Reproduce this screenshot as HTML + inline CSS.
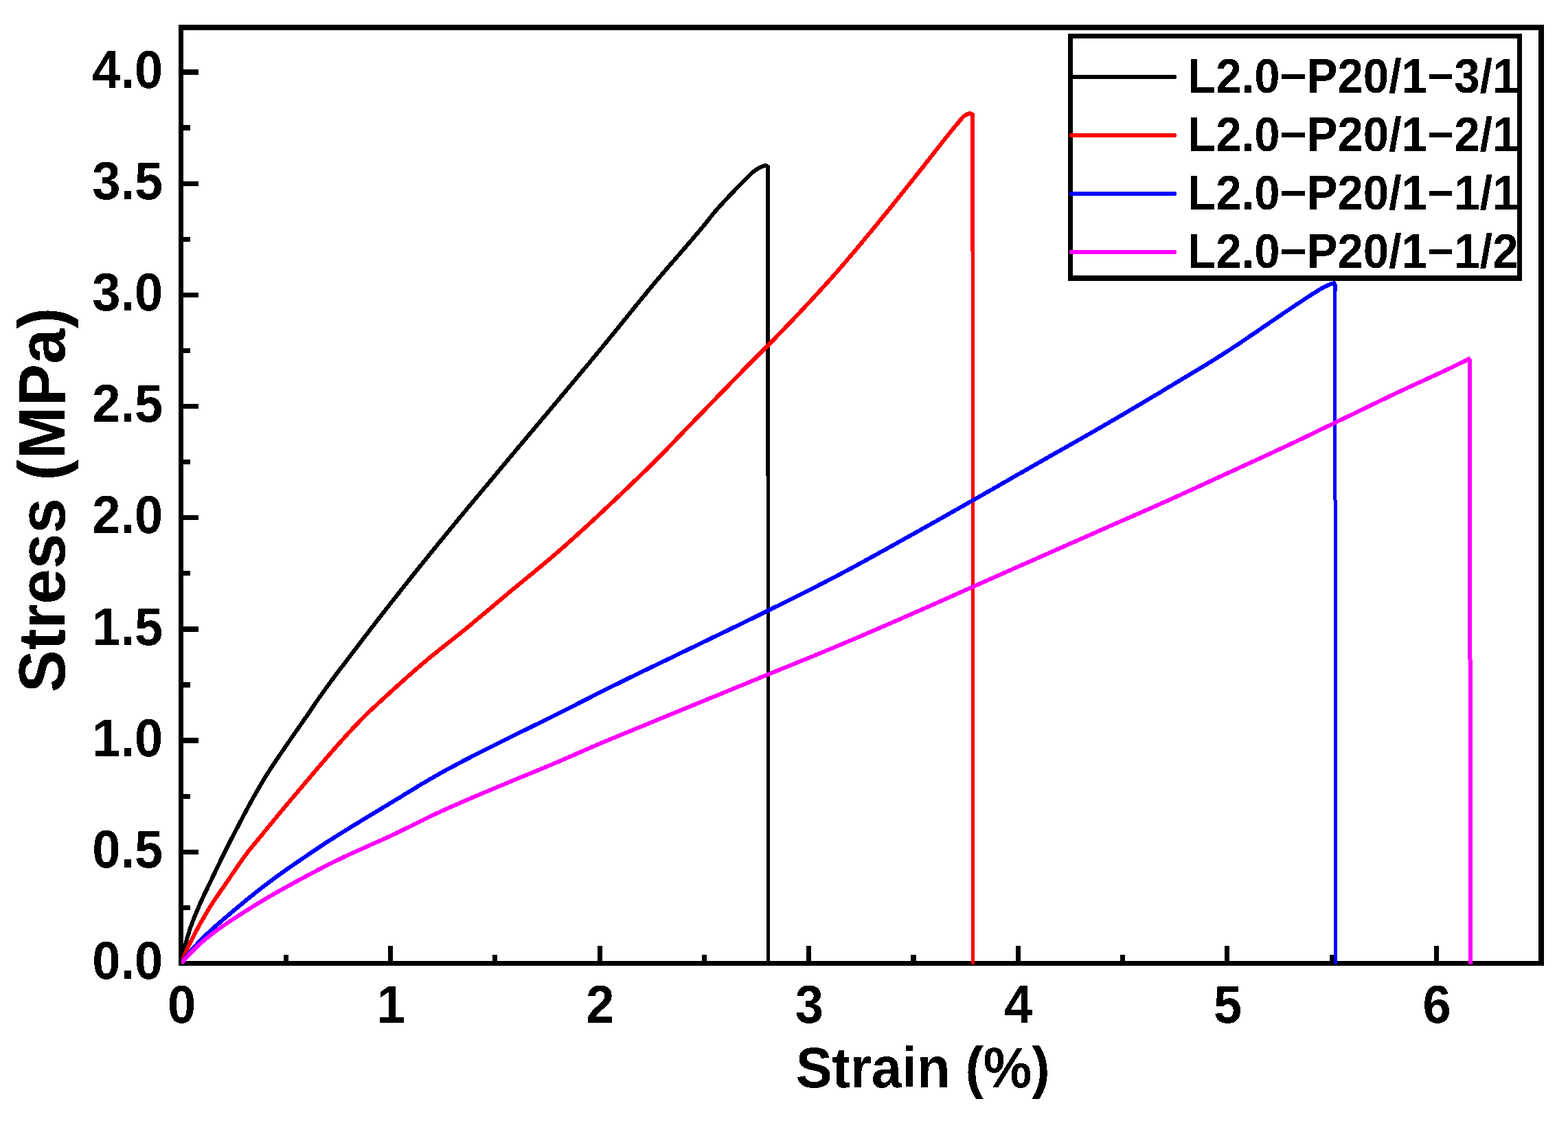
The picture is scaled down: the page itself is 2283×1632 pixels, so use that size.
<!DOCTYPE html>
<html lang="en">
<head>
<meta charset="utf-8">
<title>Stress-strain curves</title>
<style>
html,body{margin:0;padding:0;background:#fff;}
body{width:2283px;height:1632px;overflow:hidden;}
svg{display:block;}
text{font-family:'Liberation Sans',sans-serif;font-weight:bold;fill:#000;}
</style>
</head>
<body>
<svg width="2283" height="1632" viewBox="0 0 2283 1632">
<rect x="0" y="0" width="2283" height="1632" fill="#fff"/>
<g fill="#000" shape-rendering="crispEdges">
<rect x="260" y="36" width="1988" height="8"/>
<rect x="260" y="1399" width="1988" height="7"/>
<rect x="260" y="36" width="7" height="1370"/>
<rect x="2240" y="36" width="8" height="1370"/>
<rect x="267" y="1318" width="10" height="7"/>
<rect x="267" y="1237" width="22" height="7"/>
<rect x="267" y="1156" width="10" height="7"/>
<rect x="267" y="1074" width="22" height="8"/>
<rect x="267" y="993" width="10" height="8"/>
<rect x="267" y="912" width="22" height="8"/>
<rect x="267" y="831" width="10" height="7"/>
<rect x="267" y="750" width="22" height="7"/>
<rect x="267" y="669" width="10" height="7"/>
<rect x="267" y="588" width="22" height="7"/>
<rect x="267" y="507" width="10" height="7"/>
<rect x="267" y="426" width="22" height="7"/>
<rect x="267" y="345" width="10" height="7"/>
<rect x="267" y="264" width="22" height="7"/>
<rect x="267" y="182" width="10" height="8"/>
<rect x="267" y="101" width="22" height="8"/>
<rect x="413" y="1390" width="7" height="9"/>
<rect x="565" y="1377" width="7" height="22"/>
<rect x="717" y="1390" width="7" height="9"/>
<rect x="870" y="1377" width="7" height="22"/>
<rect x="1022" y="1390" width="7" height="9"/>
<rect x="1174" y="1377" width="7" height="22"/>
<rect x="1326" y="1390" width="8" height="9"/>
<rect x="1479" y="1377" width="7" height="22"/>
<rect x="1631" y="1390" width="7" height="9"/>
<rect x="1783" y="1377" width="7" height="22"/>
<rect x="1936" y="1390" width="7" height="9"/>
<rect x="2088" y="1377" width="7" height="22"/>
</g>
<defs><clipPath id="plotclip"><rect x="264" y="44" width="1976" height="1360"/></clipPath></defs>
<g clip-path="url(#plotclip)" shape-rendering="crispEdges">
<path fill="none" stroke="#000000" stroke-width="6" stroke-linejoin="round" stroke-linecap="butt" d="M263.9 1402.5 L266.0 1392.6 L268.2 1383.2 L270.3 1374.4 L272.4 1366.2 L274.6 1358.9 L274.6 1358.9 L276.7 1352.3 L278.8 1346.2 L281.0 1340.5 L283.1 1335.1 L285.2 1330.0 L287.4 1324.9 L288.6 1322.0 L289.5 1319.8 L291.6 1314.9 L293.8 1310.2 L295.9 1305.6 L298.0 1301.1 L300.2 1296.6 L302.3 1292.2 L304.4 1287.8 L305.8 1285.0 L306.6 1283.3 L308.7 1278.8 L310.8 1274.3 L313.0 1269.9 L315.1 1265.4 L317.2 1261.0 L319.4 1256.6 L321.5 1252.2 L323.6 1247.8 L325.8 1243.5 L327.9 1239.2 L330.0 1234.9 L332.2 1230.7 L334.3 1226.5 L335.0 1225.1 L336.4 1222.3 L338.6 1218.2 L340.7 1214.0 L342.8 1209.9 L345.0 1205.8 L347.1 1201.7 L349.2 1197.6 L351.4 1193.5 L353.5 1189.5 L355.6 1185.5 L357.8 1181.5 L359.9 1177.5 L362.0 1173.5 L364.2 1169.6 L366.3 1165.7 L368.4 1161.9 L370.6 1158.1 L372.7 1154.3 L374.8 1150.6 L377.0 1146.9 L379.1 1143.2 L381.2 1139.6 L383.4 1136.1 L384.0 1135.0 L385.5 1132.5 L387.6 1129.1 L389.8 1125.7 L391.9 1122.4 L394.0 1119.1 L396.2 1115.8 L398.3 1112.6 L400.4 1109.4 L402.6 1106.2 L404.7 1103.1 L406.8 1099.9 L409.0 1096.8 L411.1 1093.7 L413.2 1090.6 L415.4 1087.5 L417.5 1084.4 L419.6 1081.2 L420.0 1080.7 L421.8 1078.1 L423.9 1075.0 L426.0 1071.9 L428.2 1068.9 L430.3 1065.8 L432.4 1062.8 L434.6 1059.7 L436.7 1056.7 L438.8 1053.6 L441.0 1050.6 L443.1 1047.5 L444.8 1045.0 L445.2 1044.4 L447.4 1041.3 L449.5 1038.2 L451.6 1035.0 L453.8 1031.9 L455.9 1028.7 L458.0 1025.6 L460.2 1022.4 L462.3 1019.3 L464.4 1016.2 L466.6 1013.2 L468.7 1010.2 L468.8 1010.0 L470.8 1007.2 L473.0 1004.2 L475.1 1001.3 L477.2 998.3 L479.4 995.4 L481.5 992.5 L483.6 989.7 L485.8 986.8 L487.9 983.9 L490.0 981.1 L492.2 978.3 L494.3 975.4 L496.4 972.6 L498.6 969.8 L500.7 967.0 L502.8 964.2 L505.0 961.4 L507.1 958.6 L509.2 955.7 L509.8 955.0 L511.4 952.9 L513.5 950.1 L515.6 947.3 L517.8 944.5 L519.9 941.7 L522.0 938.9 L524.2 936.1 L526.3 933.3 L528.4 930.5 L530.6 927.7 L532.7 924.9 L534.8 922.2 L537.0 919.4 L539.1 916.6 L541.2 913.8 L543.4 911.1 L545.5 908.3 L547.6 905.5 L549.8 902.8 L551.9 900.0 L554.0 897.3 L556.2 894.5 L558.3 891.8 L560.4 889.1 L562.6 886.3 L564.7 883.6 L566.8 880.9 L569.0 878.1 L571.1 875.4 L573.2 872.7 L575.4 870.0 L577.5 867.3 L579.3 865.0 L579.6 864.6 L581.8 861.9 L583.9 859.2 L586.0 856.5 L588.2 853.8 L590.3 851.1 L592.4 848.4 L594.6 845.7 L596.7 843.0 L598.8 840.4 L601.0 837.7 L603.1 835.0 L605.2 832.4 L607.4 829.7 L609.5 827.0 L611.6 824.4 L613.8 821.7 L615.9 819.1 L618.0 816.4 L620.2 813.8 L622.3 811.2 L624.4 808.5 L626.6 805.9 L628.7 803.3 L630.8 800.6 L633.0 798.0 L635.1 795.4 L637.2 792.8 L639.4 790.1 L641.5 787.5 L643.6 784.9 L645.8 782.3 L647.9 779.7 L650.0 777.1 L651.7 775.0 L652.2 774.5 L654.3 771.9 L656.4 769.3 L658.6 766.7 L660.7 764.1 L662.8 761.5 L665.0 758.9 L667.1 756.3 L669.2 753.7 L671.4 751.2 L673.5 748.6 L675.6 746.0 L677.8 743.5 L679.9 740.9 L682.0 738.3 L684.2 735.8 L686.3 733.2 L688.4 730.6 L690.6 728.1 L692.7 725.5 L694.8 723.0 L697.0 720.4 L699.1 717.9 L701.2 715.3 L703.4 712.8 L705.5 710.2 L707.6 707.7 L709.8 705.1 L711.9 702.6 L714.0 700.0 L716.2 697.5 L718.3 694.9 L720.4 692.4 L722.6 689.8 L724.7 687.3 L726.6 685.0 L726.8 684.7 L729.0 682.1 L731.1 679.6 L733.2 677.0 L735.4 674.5 L737.5 671.9 L739.6 669.4 L741.8 666.8 L743.9 664.3 L746.0 661.7 L748.2 659.2 L750.3 656.6 L752.4 654.1 L754.6 651.5 L756.7 649.0 L758.8 646.5 L761.0 643.9 L763.1 641.4 L765.2 638.8 L767.4 636.3 L769.5 633.8 L771.6 631.2 L773.8 628.7 L775.9 626.2 L778.0 623.6 L780.2 621.1 L782.3 618.5 L784.4 616.0 L786.6 613.5 L788.7 610.9 L790.8 608.4 L793.0 605.9 L795.1 603.3 L797.2 600.8 L799.4 598.2 L801.5 595.7 L803.6 593.2 L805.8 590.6 L807.9 588.1 L810.0 585.5 L812.2 583.0 L814.3 580.5 L816.4 577.9 L818.6 575.4 L820.7 572.8 L822.8 570.3 L825.0 567.7 L827.1 565.2 L829.2 562.7 L831.4 560.1 L833.5 557.6 L835.6 555.0 L837.8 552.5 L839.9 549.9 L842.0 547.3 L844.2 544.8 L846.3 542.2 L848.4 539.7 L850.6 537.1 L852.7 534.6 L854.8 532.0 L857.0 529.4 L859.1 526.9 L861.2 524.3 L863.4 521.7 L865.5 519.1 L867.6 516.6 L869.8 514.0 L871.9 511.4 L874.0 508.8 L876.2 506.2 L877.2 505.0 L878.3 503.7 L880.4 501.1 L882.6 498.5 L884.7 495.9 L886.8 493.2 L889.0 490.6 L891.1 488.0 L893.2 485.4 L895.4 482.8 L897.5 480.1 L899.6 477.5 L901.8 474.9 L903.9 472.2 L906.0 469.6 L908.2 466.9 L910.3 464.3 L912.4 461.7 L914.6 459.0 L916.7 456.4 L918.8 453.7 L921.0 451.1 L923.1 448.5 L925.2 445.8 L927.4 443.2 L929.5 440.6 L931.6 438.0 L933.8 435.4 L935.9 432.8 L938.0 430.2 L940.2 427.6 L942.3 425.0 L944.4 422.4 L946.6 419.8 L948.7 417.3 L950.6 415.0 L950.8 414.7 L953.0 412.2 L955.1 409.6 L957.2 407.1 L959.4 404.6 L961.5 402.1 L963.6 399.6 L965.8 397.1 L967.9 394.6 L970.0 392.1 L972.2 389.7 L974.3 387.2 L976.4 384.7 L978.6 382.3 L980.7 379.8 L982.8 377.4 L985.0 374.9 L987.1 372.5 L989.2 370.0 L991.4 367.5 L993.5 365.1 L995.6 362.6 L997.8 360.2 L999.9 357.7 L1002.0 355.2 L1004.2 352.7 L1006.3 350.3 L1008.4 347.8 L1010.6 345.3 L1012.7 342.8 L1014.8 340.2 L1017.0 337.7 L1019.1 335.2 L1021.2 332.6 L1023.4 330.1 L1025.4 327.6 L1025.5 327.5 L1027.6 324.9 L1029.8 322.2 L1031.9 319.5 L1034.0 316.8 L1036.2 314.1 L1038.3 311.4 L1040.4 308.8 L1042.0 307.0 L1042.6 306.3 L1044.7 303.9 L1046.8 301.5 L1049.0 299.1 L1051.1 296.8 L1053.2 294.5 L1055.4 292.2 L1057.5 289.9 L1059.6 287.7 L1061.8 285.4 L1063.9 283.2 L1064.7 282.3 L1066.0 280.9 L1068.2 278.7 L1070.3 276.4 L1072.4 274.2 L1074.6 272.0 L1076.7 269.8 L1078.8 267.6 L1081.0 265.4 L1083.1 263.3 L1084.1 262.3 L1085.2 261.2 L1087.4 259.0 L1089.5 256.8 L1091.6 254.7 L1093.8 252.7 L1095.9 250.9 L1097.0 250.0 L1098.0 249.2 L1100.2 247.6 L1102.3 246.2 L1104.4 244.9 L1106.6 243.8 L1106.7 243.7 L1108.7 242.9 L1110.8 242.1 L1113.0 241.4 L1115.1 240.9 L1118.0 242.9 L1118.0 252.9"/>
<rect fill="#000000" x="1115" y="247" width="6" height="446"/>
<rect fill="#000000" x="1116" y="693" width="5" height="712"/>
<path fill="none" stroke="#ff0000" stroke-width="6" stroke-linejoin="round" stroke-linecap="butt" d="M263.9 1402.5 L266.8 1395.5 L269.7 1388.6 L272.5 1382.0 L275.4 1375.7 L276.4 1373.7 L278.3 1369.8 L281.2 1364.1 L284.0 1358.5 L286.9 1353.1 L289.8 1347.8 L292.7 1342.6 L295.6 1337.6 L298.4 1332.7 L301.3 1327.8 L304.2 1323.1 L304.9 1322.0 L307.1 1318.4 L309.9 1313.9 L312.8 1309.6 L315.7 1305.3 L318.6 1301.2 L321.4 1297.0 L324.3 1292.9 L327.2 1288.8 L329.8 1285.0 L330.1 1284.6 L333.0 1280.3 L335.8 1276.1 L338.7 1271.8 L341.6 1267.6 L344.5 1263.3 L347.3 1259.1 L350.2 1255.0 L353.1 1250.9 L356.0 1246.9 L358.9 1243.0 L360.9 1240.3 L361.7 1239.2 L364.6 1235.6 L367.5 1232.1 L370.4 1228.7 L373.2 1225.3 L373.4 1225.0 L376.1 1221.8 L379.0 1218.3 L381.9 1214.8 L384.7 1211.2 L387.6 1207.7 L390.5 1204.2 L393.4 1200.7 L396.3 1197.2 L399.1 1193.7 L402.0 1190.2 L404.9 1186.7 L407.8 1183.2 L410.6 1179.7 L413.5 1176.3 L416.4 1172.8 L419.3 1169.4 L422.2 1166.0 L425.0 1162.6 L427.2 1160.0 L427.9 1159.2 L430.8 1155.8 L433.7 1152.4 L436.5 1149.0 L439.4 1145.6 L442.3 1142.2 L445.2 1138.8 L448.0 1135.4 L450.9 1132.0 L453.8 1128.6 L456.7 1125.2 L459.6 1121.8 L462.4 1118.5 L465.3 1115.1 L468.2 1111.7 L471.1 1108.4 L473.9 1105.0 L476.8 1101.7 L479.7 1098.4 L482.6 1095.1 L485.5 1091.8 L488.3 1088.5 L491.2 1085.2 L494.1 1082.0 L497.0 1078.8 L499.8 1075.6 L502.7 1072.4 L505.6 1069.2 L508.5 1066.1 L511.3 1063.0 L514.2 1059.9 L517.1 1056.9 L520.0 1053.9 L522.9 1050.9 L525.7 1047.9 L528.6 1045.0 L528.6 1045.0 L531.5 1042.1 L534.4 1039.3 L537.2 1036.5 L540.1 1033.7 L543.0 1031.0 L545.9 1028.4 L548.8 1025.7 L551.6 1023.1 L554.5 1020.4 L557.4 1017.8 L560.3 1015.2 L563.1 1012.6 L566.0 1010.0 L566.0 1010.0 L568.9 1007.3 L571.8 1004.7 L574.6 1002.1 L577.5 999.5 L580.4 996.9 L583.3 994.3 L586.2 991.7 L589.0 989.2 L591.9 986.6 L594.8 984.0 L597.7 981.5 L600.5 979.0 L603.4 976.4 L606.3 973.9 L609.2 971.4 L612.1 969.0 L614.9 966.5 L617.8 964.1 L620.0 962.2 L620.7 961.6 L623.6 959.2 L626.4 956.8 L629.3 954.5 L632.2 952.1 L635.1 949.8 L637.9 947.5 L640.8 945.2 L643.7 942.9 L646.6 940.6 L649.5 938.3 L652.3 936.1 L655.2 933.8 L658.1 931.5 L661.0 929.2 L663.8 927.0 L666.7 924.7 L669.6 922.4 L672.5 920.1 L675.4 917.7 L678.2 915.4 L680.0 914.0 L681.1 913.0 L684.0 910.7 L686.9 908.3 L689.7 905.9 L692.6 903.5 L695.5 901.1 L698.4 898.7 L701.2 896.3 L704.1 893.9 L707.0 891.4 L709.9 889.0 L712.8 886.6 L715.6 884.2 L718.5 881.7 L721.4 879.3 L724.3 876.9 L727.1 874.5 L730.0 872.0 L732.9 869.6 L735.8 867.2 L738.7 864.8 L739.6 864.0 L741.5 862.4 L744.4 860.0 L747.3 857.6 L750.2 855.3 L753.0 852.9 L755.9 850.5 L758.8 848.2 L761.7 845.8 L764.5 843.4 L767.4 841.1 L770.3 838.7 L773.2 836.4 L776.1 834.0 L778.9 831.6 L781.8 829.3 L784.7 826.9 L787.6 824.5 L790.4 822.1 L793.3 819.7 L796.2 817.3 L799.1 814.9 L802.0 812.4 L804.8 810.0 L807.7 807.5 L810.6 805.0 L813.5 802.5 L815.0 801.2 L816.3 800.0 L819.2 797.5 L822.1 795.0 L825.0 792.4 L827.8 789.9 L830.7 787.3 L833.6 784.7 L836.5 782.1 L839.4 779.5 L842.2 776.9 L845.1 774.3 L848.0 771.7 L850.9 769.1 L853.7 766.5 L856.6 763.8 L859.5 761.2 L862.4 758.5 L865.3 755.8 L868.1 753.2 L871.0 750.5 L873.9 747.8 L876.8 745.1 L879.6 742.4 L882.5 739.7 L885.4 737.0 L888.3 734.3 L891.1 731.6 L894.0 728.9 L896.9 726.1 L899.8 723.4 L902.7 720.7 L905.5 717.9 L908.4 715.2 L911.3 712.4 L914.2 709.7 L917.0 706.9 L919.9 704.2 L922.8 701.4 L925.7 698.6 L928.6 695.9 L931.4 693.1 L934.3 690.3 L937.2 687.5 L939.8 685.0 L940.1 684.7 L942.9 682.0 L945.8 679.1 L948.7 676.3 L951.6 673.5 L954.4 670.6 L957.3 667.7 L960.2 664.8 L962.0 663.0 L963.1 661.9 L966.0 659.0 L968.8 656.0 L971.7 653.1 L974.6 650.1 L977.5 647.1 L980.3 644.1 L983.2 641.1 L986.1 638.1 L989.0 635.1 L991.9 632.1 L994.7 629.1 L997.6 626.1 L1000.0 623.6 L1000.5 623.1 L1003.4 620.1 L1006.2 617.2 L1009.1 614.2 L1012.0 611.2 L1014.9 608.3 L1017.7 605.3 L1020.6 602.3 L1023.5 599.4 L1026.4 596.4 L1029.3 593.4 L1032.1 590.5 L1035.0 587.5 L1037.9 584.5 L1040.8 581.6 L1043.6 578.6 L1046.5 575.6 L1049.4 572.7 L1052.3 569.7 L1055.2 566.8 L1058.0 563.8 L1060.9 560.9 L1063.8 557.9 L1066.7 555.0 L1069.5 552.0 L1072.4 549.1 L1075.3 546.1 L1078.2 543.2 L1081.0 540.2 L1083.9 537.3 L1086.8 534.4 L1089.7 531.4 L1092.6 528.5 L1095.4 525.6 L1098.3 522.7 L1099.2 521.8 L1101.2 519.7 L1104.1 516.8 L1106.9 514.0 L1109.8 511.1 L1112.7 508.2 L1115.6 505.3 L1118.5 502.5 L1121.3 499.6 L1124.2 496.7 L1127.1 493.7 L1130.0 490.8 L1131.4 489.3 L1132.8 487.8 L1135.7 484.8 L1138.6 481.9 L1141.5 478.9 L1144.3 475.9 L1147.2 472.9 L1150.1 469.9 L1153.0 466.9 L1155.9 463.9 L1158.7 460.8 L1161.6 457.8 L1164.5 454.8 L1167.4 451.7 L1170.2 448.7 L1173.1 445.6 L1176.0 442.5 L1178.9 439.5 L1181.8 436.4 L1184.6 433.3 L1187.5 430.2 L1190.4 427.0 L1193.3 423.9 L1196.1 420.7 L1199.0 417.6 L1201.9 414.4 L1204.8 411.2 L1207.7 408.0 L1210.5 404.8 L1213.4 401.5 L1214.8 400.0 L1216.3 398.3 L1219.2 395.0 L1222.0 391.7 L1224.9 388.4 L1227.8 385.1 L1230.7 381.8 L1233.5 378.4 L1236.4 375.0 L1239.3 371.6 L1242.2 368.2 L1245.1 364.8 L1247.9 361.4 L1250.8 357.9 L1253.7 354.5 L1256.6 351.0 L1259.4 347.5 L1262.3 344.1 L1265.2 340.6 L1268.1 337.1 L1271.0 333.6 L1273.8 330.1 L1276.7 326.6 L1279.6 323.1 L1282.5 319.5 L1285.3 316.0 L1288.2 312.5 L1290.3 310.0 L1291.1 309.0 L1294.0 305.5 L1296.8 301.9 L1299.7 298.4 L1302.6 294.8 L1305.5 291.2 L1308.4 287.6 L1311.2 284.0 L1314.1 280.4 L1317.0 276.8 L1319.9 273.2 L1322.7 269.6 L1325.6 265.9 L1328.5 262.3 L1331.4 258.7 L1334.3 255.1 L1337.1 251.5 L1340.0 247.9 L1340.0 247.9 L1342.9 244.3 L1345.8 240.6 L1348.6 237.0 L1351.5 233.3 L1354.4 229.6 L1357.3 225.9 L1360.1 222.2 L1363.0 218.5 L1365.9 214.9 L1368.8 211.2 L1371.7 207.5 L1374.5 203.9 L1377.4 200.3 L1380.3 196.7 L1383.2 193.1 L1386.0 189.6 L1388.9 186.1 L1391.8 182.7 L1394.1 180.0 L1394.7 179.3 L1397.6 175.7 L1400.4 172.2 L1403.3 169.3 L1404.0 168.8 L1406.2 167.4 L1409.1 165.9 L1411.9 164.9 L1416.0 166.9 L1416.0 176.9"/>
<rect fill="#ff0000" x="1413" y="171" width="6" height="195"/>
<rect fill="#ff0000" x="1414" y="366" width="5" height="1039"/>
<path fill="none" stroke="#0000ff" stroke-width="6" stroke-linejoin="miter" stroke-linecap="butt" d="M263.9 1402.5 L268.1 1397.0 L272.3 1391.6 L276.5 1386.3 L280.7 1381.3 L284.9 1376.5 L287.5 1373.7 L289.1 1372.0 L293.3 1367.6 L297.6 1363.5 L301.8 1359.4 L306.0 1355.5 L310.2 1351.6 L314.4 1347.8 L318.6 1344.2 L322.8 1340.5 L327.0 1336.9 L331.2 1333.4 L335.4 1329.8 L339.6 1326.3 L343.8 1322.8 L344.8 1322.0 L348.0 1319.2 L352.2 1315.7 L356.4 1312.2 L360.6 1308.8 L364.9 1305.4 L369.1 1302.0 L373.3 1298.6 L377.5 1295.3 L381.7 1292.1 L385.9 1288.9 L390.1 1285.7 L391.0 1285.0 L394.3 1282.5 L398.5 1279.4 L402.7 1276.3 L406.9 1273.3 L411.1 1270.3 L415.3 1267.3 L419.5 1264.3 L423.7 1261.4 L427.9 1258.5 L432.2 1255.6 L436.4 1252.7 L440.6 1249.8 L444.8 1247.0 L449.0 1244.1 L453.2 1241.2 L454.6 1240.3 L457.4 1238.4 L461.6 1235.6 L465.8 1232.8 L470.0 1230.0 L474.2 1227.2 L477.7 1225.0 L478.4 1224.5 L482.6 1221.8 L486.8 1219.2 L491.0 1216.5 L495.3 1213.9 L499.5 1211.2 L503.7 1208.6 L507.9 1206.0 L512.1 1203.4 L516.3 1200.8 L520.5 1198.3 L524.7 1195.7 L528.9 1193.1 L533.1 1190.6 L537.3 1188.0 L541.5 1185.5 L545.7 1182.9 L549.9 1180.4 L554.1 1177.9 L558.3 1175.3 L562.6 1172.8 L566.8 1170.2 L570.0 1168.3 L571.0 1167.7 L575.2 1165.1 L579.4 1162.6 L583.6 1160.0 L587.8 1157.4 L592.0 1154.9 L596.2 1152.3 L600.4 1149.7 L604.6 1147.2 L608.8 1144.6 L613.0 1142.1 L617.2 1139.6 L621.4 1137.1 L625.6 1134.6 L629.9 1132.2 L634.1 1129.8 L638.3 1127.4 L640.0 1126.4 L642.5 1125.1 L646.7 1122.7 L650.9 1120.4 L655.1 1118.2 L659.3 1115.9 L663.5 1113.7 L667.7 1111.4 L671.9 1109.2 L676.1 1107.0 L680.3 1104.8 L684.5 1102.7 L688.7 1100.5 L693.0 1098.4 L697.2 1096.2 L701.4 1094.1 L705.6 1092.0 L709.8 1089.8 L714.0 1087.7 L718.2 1085.6 L722.4 1083.5 L726.6 1081.4 L730.8 1079.3 L735.0 1077.2 L739.2 1075.1 L740.0 1074.7 L743.4 1073.0 L747.6 1070.9 L751.8 1068.8 L756.0 1066.8 L760.3 1064.7 L764.5 1062.7 L768.7 1060.6 L772.9 1058.6 L777.1 1056.5 L781.3 1054.5 L785.5 1052.5 L789.7 1050.4 L793.9 1048.3 L798.1 1046.3 L800.0 1045.3 L802.3 1044.2 L806.5 1042.1 L810.7 1040.0 L814.9 1037.9 L819.1 1035.7 L823.3 1033.6 L827.6 1031.5 L831.8 1029.3 L836.0 1027.2 L840.2 1025.0 L844.4 1022.9 L848.6 1020.7 L852.8 1018.6 L857.0 1016.5 L861.2 1014.3 L865.4 1012.2 L869.6 1010.1 L873.8 1007.9 L878.0 1005.8 L882.2 1003.7 L886.4 1001.6 L889.9 999.9 L890.7 999.5 L894.9 997.4 L899.1 995.4 L903.3 993.3 L907.5 991.2 L911.7 989.2 L915.9 987.1 L920.1 985.1 L924.3 983.0 L928.5 981.0 L932.7 979.0 L936.9 976.9 L941.1 974.9 L945.3 972.9 L949.5 970.8 L953.7 968.8 L958.0 966.8 L962.2 964.8 L966.4 962.7 L970.6 960.7 L974.8 958.7 L979.0 956.7 L983.2 954.6 L987.4 952.6 L991.6 950.6 L995.8 948.5 L999.5 946.7 L1000.0 946.5 L1004.2 944.4 L1008.4 942.4 L1012.6 940.4 L1016.8 938.3 L1021.0 936.3 L1025.3 934.2 L1029.5 932.2 L1033.7 930.2 L1037.9 928.1 L1042.1 926.1 L1046.3 924.1 L1050.5 922.0 L1054.7 920.0 L1058.9 918.0 L1063.1 915.9 L1067.3 913.9 L1071.5 911.9 L1075.7 909.8 L1079.9 907.8 L1084.1 905.7 L1088.4 903.7 L1092.6 901.6 L1096.8 899.6 L1101.0 897.5 L1105.2 895.4 L1109.4 893.4 L1113.6 891.3 L1117.8 889.2 L1120.0 888.1 L1122.0 887.1 L1126.2 885.0 L1130.4 882.9 L1134.6 880.9 L1138.8 878.8 L1143.0 876.7 L1147.2 874.6 L1151.4 872.5 L1155.7 870.4 L1159.9 868.3 L1164.1 866.2 L1168.3 864.1 L1172.5 862.0 L1176.7 859.9 L1180.9 857.7 L1185.1 855.6 L1189.3 853.5 L1193.5 851.3 L1197.7 849.2 L1201.9 847.0 L1206.1 844.8 L1210.3 842.6 L1214.5 840.5 L1218.7 838.3 L1220.0 837.6 L1223.0 836.0 L1227.2 833.8 L1231.4 831.6 L1235.6 829.3 L1239.8 827.1 L1244.0 824.8 L1248.2 822.5 L1252.4 820.2 L1256.6 817.9 L1260.8 815.6 L1265.0 813.3 L1269.2 811.0 L1273.4 808.7 L1277.6 806.4 L1281.8 804.0 L1286.1 801.7 L1290.3 799.4 L1294.5 797.0 L1298.7 794.7 L1302.9 792.3 L1307.1 790.0 L1311.3 787.6 L1315.5 785.3 L1319.7 782.9 L1323.9 780.6 L1328.1 778.2 L1332.3 775.9 L1336.5 773.5 L1340.1 771.5 L1340.7 771.2 L1344.9 768.8 L1349.1 766.5 L1353.4 764.1 L1357.6 761.7 L1361.8 759.4 L1366.0 757.0 L1370.2 754.6 L1374.4 752.3 L1378.6 749.9 L1382.8 747.5 L1387.0 745.1 L1391.2 742.8 L1395.4 740.4 L1399.6 738.0 L1403.8 735.6 L1408.0 733.2 L1412.2 730.8 L1416.4 728.4 L1416.5 728.4 L1420.7 726.0 L1424.9 723.6 L1429.1 721.2 L1433.3 718.8 L1437.5 716.4 L1441.7 714.0 L1445.9 711.6 L1450.1 709.2 L1454.3 706.8 L1458.5 704.4 L1462.7 702.0 L1466.9 699.6 L1471.1 697.2 L1475.3 694.7 L1479.5 692.3 L1483.8 689.9 L1488.0 687.5 L1492.2 685.1 L1496.4 682.7 L1500.6 680.3 L1504.8 677.9 L1509.0 675.5 L1513.2 673.1 L1514.6 672.3 L1517.4 670.7 L1521.6 668.3 L1525.8 665.9 L1530.0 663.5 L1534.2 661.1 L1538.4 658.7 L1542.6 656.4 L1546.8 654.0 L1551.1 651.6 L1555.3 649.2 L1559.5 646.8 L1563.7 644.5 L1567.9 642.1 L1572.1 639.7 L1576.3 637.3 L1580.5 634.9 L1584.7 632.5 L1588.9 630.1 L1593.1 627.7 L1597.3 625.2 L1600.0 623.7 L1601.5 622.8 L1605.7 620.4 L1609.9 617.9 L1614.1 615.5 L1618.4 613.0 L1622.6 610.6 L1626.8 608.1 L1631.0 605.7 L1635.2 603.2 L1639.4 600.7 L1643.6 598.2 L1647.8 595.8 L1652.0 593.3 L1656.2 590.8 L1660.4 588.3 L1664.6 585.8 L1668.8 583.3 L1673.0 580.8 L1677.2 578.3 L1681.5 575.8 L1685.7 573.3 L1689.9 570.8 L1694.1 568.2 L1698.3 565.7 L1700.0 564.7 L1702.5 563.2 L1706.7 560.7 L1710.9 558.1 L1715.1 555.6 L1719.3 553.1 L1723.5 550.6 L1727.7 548.0 L1731.9 545.5 L1736.1 543.0 L1740.3 540.4 L1744.5 537.9 L1748.8 535.3 L1753.0 532.8 L1757.2 530.2 L1761.4 527.6 L1765.6 525.0 L1769.8 522.4 L1774.0 519.7 L1778.2 517.1 L1782.4 514.4 L1786.6 511.7 L1789.6 509.8 L1790.8 509.0 L1795.0 506.2 L1799.2 503.5 L1803.4 500.7 L1807.6 497.8 L1811.8 495.0 L1816.1 492.1 L1820.3 489.2 L1824.5 486.3 L1828.7 483.5 L1832.9 480.6 L1837.1 477.7 L1839.6 476.0 L1841.3 474.9 L1845.5 472.0 L1849.7 469.1 L1853.9 466.3 L1858.1 463.4 L1862.3 460.5 L1866.5 457.6 L1870.7 454.7 L1874.9 451.9 L1879.2 449.0 L1883.4 446.2 L1887.6 443.4 L1889.2 442.3 L1891.8 440.6 L1896.0 437.8 L1900.2 435.0 L1904.4 432.3 L1908.6 429.6 L1912.8 426.9 L1914.2 426.1 L1917.0 424.3 L1921.2 421.7 L1925.4 419.3 L1929.1 417.3 L1929.6 417.1 L1933.8 415.1 L1938.0 413.4 L1939.2 413.1 L1942.2 412.4 L1943.5 414.4 L1943.5 424.4"/>
<rect fill="#0000ff" x="1941" y="418" width="5" height="310"/>
<rect fill="#0000ff" x="1942" y="728" width="5" height="677"/>
<path fill="none" stroke="#ff00ff" stroke-width="6" stroke-linejoin="miter" stroke-linecap="butt" d="M263.9 1402.5 L268.6 1397.2 L273.3 1392.0 L278.0 1386.9 L282.7 1382.1 L287.4 1377.5 L291.6 1373.7 L292.1 1373.3 L296.8 1369.3 L301.5 1365.4 L306.2 1361.7 L310.9 1358.1 L315.6 1354.6 L320.3 1351.2 L325.0 1347.9 L329.7 1344.7 L334.4 1341.5 L339.1 1338.4 L343.8 1335.3 L348.5 1332.3 L353.2 1329.3 L357.9 1326.3 L362.6 1323.3 L364.7 1322.0 L367.3 1320.3 L372.0 1317.4 L376.7 1314.5 L381.4 1311.7 L386.1 1308.9 L390.8 1306.1 L395.5 1303.4 L400.2 1300.7 L404.9 1298.0 L409.6 1295.4 L414.3 1292.8 L419.0 1290.2 L422.0 1288.5 L423.7 1287.6 L428.4 1285.0 L433.1 1282.4 L437.8 1279.9 L442.5 1277.4 L447.2 1274.9 L451.9 1272.4 L456.5 1269.9 L461.2 1267.5 L465.9 1265.0 L470.6 1262.6 L475.3 1260.2 L480.0 1257.9 L484.7 1255.5 L489.4 1253.2 L494.1 1250.9 L495.0 1250.5 L498.8 1248.6 L503.5 1246.4 L508.2 1244.2 L512.9 1242.0 L517.6 1239.9 L522.3 1237.8 L527.0 1235.7 L531.7 1233.6 L536.4 1231.5 L541.1 1229.4 L545.8 1227.3 L550.5 1225.2 L555.2 1223.1 L559.9 1221.0 L564.6 1218.8 L569.3 1216.6 L570.0 1216.3 L574.0 1214.4 L578.7 1212.1 L583.4 1209.8 L588.1 1207.5 L592.8 1205.2 L597.5 1202.9 L602.2 1200.5 L606.9 1198.2 L611.6 1195.9 L616.3 1193.5 L621.0 1191.2 L625.7 1189.0 L630.4 1186.7 L635.1 1184.5 L639.8 1182.3 L640.0 1182.2 L644.5 1180.2 L649.2 1178.0 L653.9 1175.9 L658.6 1173.8 L663.3 1171.8 L668.0 1169.7 L672.7 1167.7 L677.4 1165.6 L682.1 1163.6 L686.8 1161.6 L691.5 1159.6 L696.2 1157.6 L700.9 1155.6 L705.6 1153.6 L710.3 1151.7 L715.0 1149.7 L719.7 1147.7 L724.4 1145.7 L729.1 1143.8 L733.8 1141.8 L738.5 1139.8 L740.0 1139.2 L743.2 1137.8 L747.9 1135.9 L752.6 1134.0 L757.3 1132.0 L762.0 1130.1 L766.7 1128.2 L771.4 1126.3 L776.1 1124.3 L780.8 1122.4 L785.5 1120.5 L790.2 1118.5 L794.9 1116.6 L799.6 1114.6 L800.0 1114.4 L804.3 1112.6 L809.0 1110.6 L813.7 1108.6 L818.4 1106.6 L823.1 1104.5 L827.8 1102.5 L832.5 1100.4 L837.2 1098.4 L841.8 1096.3 L846.5 1094.3 L851.2 1092.2 L855.9 1090.2 L860.6 1088.1 L865.3 1086.1 L870.0 1084.1 L873.1 1082.8 L874.7 1082.1 L879.4 1080.1 L884.1 1078.2 L888.8 1076.2 L893.5 1074.2 L898.2 1072.3 L902.9 1070.3 L907.6 1068.4 L912.3 1066.5 L917.0 1064.5 L921.7 1062.6 L926.4 1060.7 L931.1 1058.8 L935.8 1056.8 L940.5 1054.9 L945.2 1053.0 L949.6 1051.2 L949.9 1051.0 L954.6 1049.1 L959.3 1047.1 L964.0 1045.2 L968.7 1043.3 L973.4 1041.3 L978.1 1039.4 L982.8 1037.5 L987.5 1035.5 L992.2 1033.6 L996.9 1031.7 L1001.6 1029.8 L1006.3 1027.8 L1011.0 1025.9 L1015.7 1024.0 L1020.4 1022.0 L1024.5 1020.4 L1025.1 1020.1 L1029.8 1018.2 L1034.5 1016.2 L1039.2 1014.3 L1043.9 1012.4 L1048.6 1010.5 L1053.3 1008.5 L1058.0 1006.6 L1062.7 1004.7 L1067.4 1002.8 L1072.1 1000.8 L1076.8 998.9 L1081.5 997.0 L1086.2 995.1 L1090.9 993.1 L1095.6 991.2 L1100.3 989.3 L1105.0 987.4 L1109.7 985.4 L1114.4 983.5 L1119.1 981.6 L1120.0 981.2 L1123.8 979.7 L1128.5 977.7 L1133.2 975.8 L1137.9 973.9 L1142.6 972.0 L1147.3 970.1 L1152.0 968.2 L1156.7 966.3 L1161.4 964.3 L1166.1 962.4 L1170.8 960.5 L1175.5 958.6 L1180.2 956.7 L1184.9 954.8 L1189.6 952.8 L1194.3 950.9 L1199.0 949.0 L1203.7 947.0 L1208.4 945.1 L1213.1 943.1 L1217.8 941.1 L1220.0 940.2 L1222.5 939.2 L1227.1 937.2 L1231.8 935.2 L1236.5 933.2 L1241.2 931.2 L1245.9 929.2 L1250.6 927.2 L1255.3 925.2 L1260.0 923.2 L1264.7 921.1 L1269.4 919.1 L1274.1 917.1 L1278.8 915.1 L1283.5 913.0 L1288.2 911.0 L1292.9 908.9 L1297.6 906.9 L1302.3 904.8 L1307.0 902.8 L1311.7 900.7 L1316.4 898.7 L1321.1 896.6 L1325.8 894.6 L1330.5 892.5 L1335.2 890.4 L1339.9 888.4 L1340.1 888.3 L1344.6 886.3 L1349.3 884.2 L1354.0 882.2 L1358.7 880.1 L1363.4 878.0 L1368.1 875.9 L1372.8 873.8 L1377.5 871.7 L1382.2 869.6 L1386.9 867.5 L1391.6 865.4 L1396.3 863.3 L1401.0 861.2 L1405.7 859.1 L1410.4 857.0 L1415.1 854.9 L1416.5 854.3 L1419.8 852.8 L1424.5 850.7 L1429.2 848.6 L1433.9 846.5 L1438.6 844.5 L1443.3 842.4 L1448.0 840.3 L1452.7 838.2 L1457.4 836.1 L1462.1 834.0 L1466.8 831.9 L1471.5 829.9 L1476.2 827.8 L1480.9 825.7 L1485.6 823.6 L1490.3 821.5 L1495.0 819.4 L1499.7 817.4 L1504.4 815.3 L1509.1 813.2 L1513.8 811.1 L1518.5 809.0 L1523.2 807.0 L1527.9 804.9 L1532.6 802.8 L1537.3 800.7 L1542.0 798.6 L1546.7 796.6 L1551.4 794.5 L1556.1 792.4 L1560.8 790.3 L1565.5 788.3 L1570.2 786.2 L1574.9 784.1 L1579.6 782.0 L1584.3 779.9 L1589.0 777.9 L1593.7 775.8 L1598.4 773.7 L1600.0 773.0 L1603.1 771.6 L1607.8 769.6 L1612.4 767.5 L1617.1 765.4 L1621.8 763.4 L1626.5 761.3 L1631.2 759.2 L1635.9 757.2 L1640.6 755.1 L1645.3 753.1 L1650.0 751.0 L1654.7 748.9 L1659.4 746.9 L1664.1 744.8 L1668.8 742.7 L1673.5 740.7 L1678.2 738.6 L1682.9 736.5 L1687.6 734.4 L1692.3 732.3 L1697.0 730.2 L1700.0 728.9 L1701.7 728.1 L1706.4 726.0 L1711.1 723.9 L1715.8 721.7 L1720.5 719.6 L1725.2 717.4 L1729.9 715.3 L1734.6 713.2 L1739.3 711.0 L1744.0 708.8 L1748.7 706.7 L1753.4 704.5 L1758.1 702.4 L1762.8 700.2 L1767.5 698.0 L1772.2 695.9 L1776.9 693.7 L1781.6 691.5 L1786.3 689.4 L1789.6 687.8 L1791.0 687.2 L1795.7 685.1 L1800.4 682.9 L1805.1 680.7 L1809.8 678.6 L1814.5 676.4 L1819.2 674.3 L1823.9 672.1 L1828.6 670.0 L1833.3 667.8 L1838.0 665.6 L1842.7 663.5 L1847.4 661.3 L1852.1 659.1 L1856.8 656.9 L1861.5 654.7 L1866.2 652.5 L1870.9 650.3 L1875.6 648.1 L1880.1 646.0 L1880.3 645.9 L1885.0 643.7 L1889.7 641.5 L1894.4 639.2 L1899.1 637.0 L1903.8 634.7 L1908.5 632.4 L1913.2 630.2 L1917.9 627.9 L1922.6 625.6 L1927.3 623.3 L1932.0 621.1 L1936.7 618.8 L1941.4 616.5 L1943.5 615.5 L1946.1 614.3 L1950.8 612.0 L1955.5 609.7 L1960.2 607.4 L1964.9 605.2 L1969.6 602.9 L1974.3 600.6 L1979.0 598.3 L1983.7 596.1 L1988.4 593.8 L1993.1 591.5 L1997.7 589.2 L2002.4 587.0 L2007.1 584.7 L2011.8 582.4 L2016.5 580.2 L2021.2 577.9 L2025.9 575.7 L2030.6 573.4 L2035.3 571.2 L2039.1 569.4 L2040.0 569.0 L2044.7 566.8 L2049.4 564.6 L2054.1 562.4 L2058.8 560.3 L2063.5 558.1 L2068.2 556.0 L2072.9 553.8 L2077.6 551.7 L2082.3 549.5 L2087.0 547.4 L2091.7 545.2 L2096.4 543.0 L2101.1 540.8 L2105.8 538.6 L2110.5 536.4 L2113.7 534.9 L2115.2 534.2 L2119.9 531.9 L2124.6 529.6 L2129.3 527.3 L2134.0 525.0 L2138.7 522.7 L2140.0 524.7 L2140.0 534.7"/>
<rect fill="#ff00ff" x="2137" y="529" width="6" height="431"/>
<rect fill="#ff00ff" x="2138" y="960" width="6" height="445"/>
</g>
<g shape-rendering="crispEdges">
<rect x="1555" y="49" width="661" height="360" fill="#000"/>
<rect x="1562" y="56" width="647" height="345" fill="#fff"/>
</g>
<g fill="none" stroke-width="6" stroke-linecap="round" shape-rendering="crispEdges">
<line x1="1560" y1="112" x2="1710" y2="112" stroke="#000000"/>
<line x1="1560" y1="197" x2="1710" y2="197" stroke="#ff0000"/>
<line x1="1560" y1="282" x2="1710" y2="282" stroke="#0000ff"/>
<line x1="1560" y1="367" x2="1710" y2="367" stroke="#ff00ff"/>
</g>
<defs><filter id="hard" filterUnits="userSpaceOnUse" x="0" y="0" width="2283" height="1632" color-interpolation-filters="sRGB"><feComponentTransfer><feFuncA type="discrete" tableValues="0 1"/></feComponentTransfer></filter></defs>
<g filter="url(#hard)">
<text transform="translate(1729.30 134.80) scale(1 1.040)" font-size="67.10" text-anchor="start">L2.0−P20/1−3/1</text>
<text transform="translate(1729.30 219.80) scale(1 1.040)" font-size="67.10" text-anchor="start">L2.0−P20/1−2/1</text>
<text transform="translate(1729.30 304.80) scale(1 1.040)" font-size="67.10" text-anchor="start">L2.0−P20/1−1/1</text>
<text transform="translate(1729.30 389.80) scale(1 1.040)" font-size="67.10" text-anchor="start">L2.0−P20/1−1/2</text>
<text transform="translate(237.10 1425.20) scale(1 1.040)" font-size="74.00" text-anchor="end">0.0</text>
<text transform="translate(237.10 1263.00) scale(1 1.040)" font-size="74.00" text-anchor="end">0.5</text>
<text transform="translate(237.10 1100.80) scale(1 1.040)" font-size="74.00" text-anchor="end">1.0</text>
<text transform="translate(237.10 938.60) scale(1 1.040)" font-size="74.00" text-anchor="end">1.5</text>
<text transform="translate(237.10 776.40) scale(1 1.040)" font-size="74.00" text-anchor="end">2.0</text>
<text transform="translate(237.10 614.20) scale(1 1.040)" font-size="74.00" text-anchor="end">2.5</text>
<text transform="translate(237.10 452.00) scale(1 1.040)" font-size="74.00" text-anchor="end">3.0</text>
<text transform="translate(237.10 289.80) scale(1 1.040)" font-size="74.00" text-anchor="end">3.5</text>
<text transform="translate(237.10 127.60) scale(1 1.040)" font-size="74.00" text-anchor="end">4.0</text>
<text transform="translate(264.50 1489.00) scale(1 1.040)" font-size="74.00" text-anchor="middle">0</text>
<text transform="translate(569.10 1489.00) scale(1 1.040)" font-size="74.00" text-anchor="middle">1</text>
<text transform="translate(873.70 1489.00) scale(1 1.040)" font-size="74.00" text-anchor="middle">2</text>
<text transform="translate(1178.30 1489.00) scale(1 1.040)" font-size="74.00" text-anchor="middle">3</text>
<text transform="translate(1482.90 1489.00) scale(1 1.040)" font-size="74.00" text-anchor="middle">4</text>
<text transform="translate(1787.50 1489.00) scale(1 1.040)" font-size="74.00" text-anchor="middle">5</text>
<text transform="translate(2092.10 1489.00) scale(1 1.040)" font-size="74.00" text-anchor="middle">6</text>
<text transform="translate(1343.70 1583.00) scale(1 1.040)" font-size="79.30" text-anchor="middle">Strain (%)</text>
<text transform="translate(94.80 727.80) rotate(-90) scale(1 1.040)" font-size="92.50" text-anchor="middle">Stress (MPa)</text>
</g>
</svg>
</body>
</html>
